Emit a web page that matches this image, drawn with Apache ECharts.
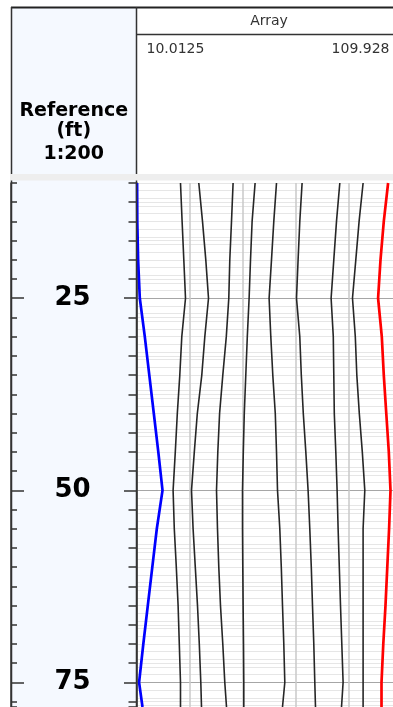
<!DOCTYPE html>
<html><head><meta charset="utf-8">
<script src="https://cdn.jsdelivr.net/npm/echarts@6/dist/echarts.min.js"></script>
<style>html,body{margin:0;padding:0;background:#fff}#c{width:393px;height:707px}</style>
</head><body><div id="c"></div>
<script>
// ---- data ----
const trackTitle = 'Array';
const depthTitle = ['Reference', '(ft)', '1:200'];
const xMin = 10.0125, xMax = 109.928;
const depthMin = 10, depthMax = 78.2;
const depthLabels = [25, 50, 75];
const depths = [10, 15, 20, 25, 30, 35, 40, 45, 50, 55, 60, 65, 70, 75, 78.2];
const curveBlue = [10.24, 10.31, 10.62, 11.26, 13.14, 14.84, 16.54, 18.23, 19.82, 17.67, 15.97, 14.27, 12.58, 10.99, 12.27];
const curve2 = [26.60, 27.21, 27.85, 28.49, 27.09, 26.34, 25.40, 24.64, 23.81, 24.26, 25.02, 25.70, 26.15, 26.60, 26.60];
const curve3 = [33.50, 34.90, 36.14, 37.16, 35.77, 34.63, 32.94, 31.81, 30.75, 31.35, 32.18, 33.01, 33.69, 34.26, 34.52];
const curve4 = [46.43, 45.83, 45.19, 44.81, 43.87, 42.55, 41.34, 40.67, 40.18, 40.55, 41.04, 41.68, 42.55, 43.30, 43.95];
const curve5 = [54.73, 53.60, 53.00, 52.47, 51.79, 51.22, 50.65, 50.28, 49.98, 49.98, 50.09, 50.21, 50.36, 50.47, 50.47];
const curve6 = [62.80, 61.78, 60.91, 60.01, 60.65, 61.40, 62.34, 62.80, 63.18, 64.04, 64.61, 65.06, 65.55, 65.93, 65.06];
const curve7 = [72.45, 71.58, 70.94, 70.34, 71.58, 72.15, 72.90, 73.85, 74.71, 75.35, 75.92, 76.37, 76.86, 77.24, 77.50];
const curve8 = [86.67, 85.42, 84.40, 83.39, 84.21, 84.40, 84.59, 85.16, 85.65, 86.03, 86.48, 86.93, 87.42, 87.91, 87.31];
const curve9 = [95.45, 93.94, 92.70, 91.45, 92.51, 93.08, 94.02, 95.15, 96.09, 95.45, 95.45, 95.45, 95.45, 95.45, 95.45];
const curveRed = [104.88, 103.25, 102.01, 101.10, 102.50, 103.25, 104.19, 105.14, 105.78, 105.25, 104.57, 103.89, 103.06, 102.39, 102.39];

const curves = [curveBlue, curve2, curve3, curve4, curve5, curve6, curve7, curve8, curve9, curveRed];

// ---- layout / style ----
const FONT = 'DejaVu Sans';
const TOP = 183, TRACK_L = 136.5, TRACK_W = 265, DEPTH_L = 11, DEPTH_W = 125.5;

const chart = echarts.init(document.getElementById('c'), null, {renderer: 'canvas'});

function curveColor(i) {
  if (i === 0) return '#0000ff';
  if (i === curves.length - 1) return '#ff0000';
  return '#262626';
}
function curveWidth(i) {
  return (i === 0 || i === curves.length - 1) ? 2.7 : 1.6;
}

const series = curves.map((vals, i) => ({
  type: 'line', name: 'c' + i, xAxisIndex: 0, yAxisIndex: 0,
  data: vals.map((v, k) => [v, depths[k]]),
  showSymbol: false, symbol: 'none',
  lineStyle: {color: curveColor(i), width: curveWidth(i)},
  z: i === 0 || i === curves.length - 1 ? 4 : 3,
  animation: false
}));

const yBase = {type: 'value', inverse: true, min: depthMin, max: depthMax};
const noAxis = {axisLine: {show: false}, axisTick: {show: false}, axisLabel: {show: false}};

const option = {
  animation: false,
  grid: [
    {left: TRACK_L, top: TOP, width: TRACK_W, bottom: 0, outerBoundsMode: 'none', containLabel: false},
    {left: DEPTH_L, top: TOP, width: DEPTH_W, bottom: 0, outerBoundsMode: 'none', containLabel: false}
  ],
  xAxis: [
    Object.assign({type: 'value', gridIndex: 0, min: xMin, max: xMax, show: false}),
    Object.assign({type: 'value', gridIndex: 0, min: 0, max: 5, interval: 1,
      splitLine: {show: true, lineStyle: {color: '#c8c8c8', width: 1.5}}}, noAxis),
    {type: 'value', gridIndex: 1, min: 0, max: 1, show: false}
  ],
  yAxis: [
    Object.assign({}, yBase, noAxis, {gridIndex: 0, interval: 1,
      splitLine: {show: true, lineStyle: {color: '#e6e6e6', width: 1}}}),
    Object.assign({}, yBase, noAxis, {gridIndex: 0, interval: 2.5,
      splitLine: {show: true, lineStyle: {color: '#e6e6e6', width: 1}}}),
    Object.assign({}, yBase, {gridIndex: 0,
      axisLine: {show: false}, axisLabel: {show: false},
      axisTick: {show: false, customValues: depthLabels},
      splitLine: {show: true, lineStyle: {color: '#a6a6a6', width: 1}}}),
    // depth track: minor ticks left / right
    Object.assign({}, yBase, {gridIndex: 1, position: 'left', interval: 2.5,
      axisLine: {show: true, lineStyle: {color: '#333', width: 1.5}},
      axisTick: {show: true, inside: true, length: 6, lineStyle: {color: '#333', width: 1.5}},
      axisLabel: {show: false}, splitLine: {show: false}}),
    Object.assign({}, yBase, {gridIndex: 1, position: 'right', interval: 2.5,
      axisLine: {show: true, lineStyle: {color: '#333', width: 1.5}},
      axisTick: {show: true, inside: true, length: 8, lineStyle: {color: '#333', width: 1.5}},
      axisLabel: {show: false}, splitLine: {show: false}}),
    // depth track: major ticks + labels
    Object.assign({}, yBase, {gridIndex: 1, position: 'left',
      axisLine: {show: false},
      axisTick: {show: true, inside: true, length: 13, customValues: depthLabels, lineStyle: {color: '#333', width: 1.5}},
      axisLabel: {show: true, inside: true, margin: 61.5, align: 'center', customValues: depthLabels,
        fontFamily: FONT, fontWeight: 'bold', fontSize: 26, color: '#000'},
      splitLine: {show: false}}),
    Object.assign({}, yBase, {gridIndex: 1, position: 'right',
      axisLine: {show: false},
      axisTick: {show: true, inside: true, length: 12.5, customValues: depthLabels, lineStyle: {color: '#333', width: 1.5}},
      axisLabel: {show: false}, splitLine: {show: false}})
  ],
  graphic: [
    {type: 'rect', z: -10, shape: {x: DEPTH_L, y: 7, width: DEPTH_W, height: 700}, style: {fill: '#f5f9ff'}},
    {type: 'line', z: 50, shape: {x1: DEPTH_L, y1: 7.5, x2: 393, y2: 7.5}, style: {stroke: '#222', lineWidth: 2}},
    {type: 'line', z: 50, shape: {x1: DEPTH_L + 0.5, y1: 7, x2: DEPTH_L + 0.5, y2: 707}, style: {stroke: '#333', lineWidth: 1.5}},
    {type: 'line', z: 50, shape: {x1: TRACK_L, y1: 7, x2: TRACK_L, y2: 707}, style: {stroke: '#333', lineWidth: 1.5}},
    {type: 'line', z: 50, shape: {x1: TRACK_L, y1: 34.5, x2: 393, y2: 34.5}, style: {stroke: '#333', lineWidth: 1.5}},
    {type: 'rect', z: 60, shape: {x: 10, y: 174, width: 383, height: 6.5}, style: {fill: '#eeeeee'}},
    {type: 'text', z: 60, x: TRACK_L + TRACK_W / 2, y: 21, style: {text: trackTitle, font: '14px "' + FONT + '"', fill: '#333', textAlign: 'center', textVerticalAlign: 'middle'}},
    {type: 'text', z: 60, x: TRACK_L + 10, y: 49, style: {text: String(xMin), font: '14px "' + FONT + '"', fill: '#333', textAlign: 'left', textVerticalAlign: 'middle'}},
    {type: 'text', z: 60, x: TRACK_L + TRACK_W - 12, y: 49, style: {text: String(xMax), font: '14px "' + FONT + '"', fill: '#333', textAlign: 'right', textVerticalAlign: 'middle'}},
    {type: 'text', z: 60, x: DEPTH_L + DEPTH_W / 2, y: 121, style: {text: depthTitle[0], font: 'bold 19px "' + FONT + '"', fill: '#000', textAlign: 'center', textVerticalAlign: 'bottom'}},
    {type: 'text', z: 60, x: DEPTH_L + DEPTH_W / 2, y: 141, style: {text: depthTitle[1], font: 'bold 19px "' + FONT + '"', fill: '#000', textAlign: 'center', textVerticalAlign: 'bottom'}},
    {type: 'text', z: 60, x: DEPTH_L + DEPTH_W / 2, y: 164, style: {text: depthTitle[2], font: 'bold 19px "' + FONT + '"', fill: '#000', textAlign: 'center', textVerticalAlign: 'bottom'}}
  ],
  series: series
};
chart.setOption(option);
</script>
</body></html>
